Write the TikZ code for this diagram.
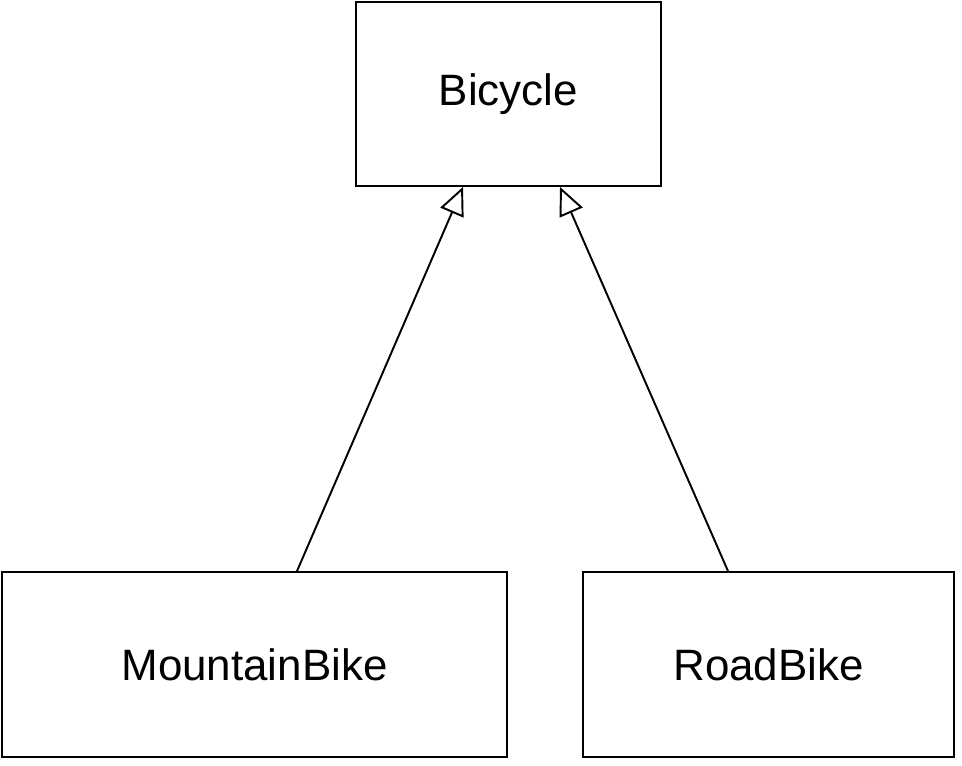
\documentclass[tikz,border=0pt]{standalone}
\usepackage{fontspec}
\setmainfont{Liberation Sans}
\usepackage{tikz}
\usetikzlibrary{arrows.meta, calc}

\begin{document}
\begin{tikzpicture}[x=0.02cm, y=-0.02cm,
    classbox/.style={draw, line width=1.1pt, inner sep=0pt,
      font=\fontsize{25}{30}\selectfont},
    inherit/.style={line width=1.1pt,
      -{Triangle[open, length=0.56cm, width=0.5cm, line width=1.1pt]}}]
    \useasboundingbox (0, 0) rectangle (962, 766);

    % Classes
    \node[classbox, minimum width=6.1cm, minimum height=3.68cm] (bicycle) at (508.5, 94) {Bicycle};
    \node[classbox, minimum width=10.1cm, minimum height=3.7cm] (mountain) at (254.5, 664.5) {MountainBike};
    \node[classbox, minimum width=7.42cm, minimum height=3.7cm] (road) at (768.5, 664.5) {RoadBike};

    % Generalisation arrows
    \draw[inherit] ($(mountain.north)+(42.5, 0)$) -- ($(bicycle.south)+(-45.5, 0)$);
    \draw[inherit] ($(road.north)+(-40.5, 0)$) -- ($(bicycle.south)+(51.5, 0)$);
  \end{tikzpicture}
\end{document}
